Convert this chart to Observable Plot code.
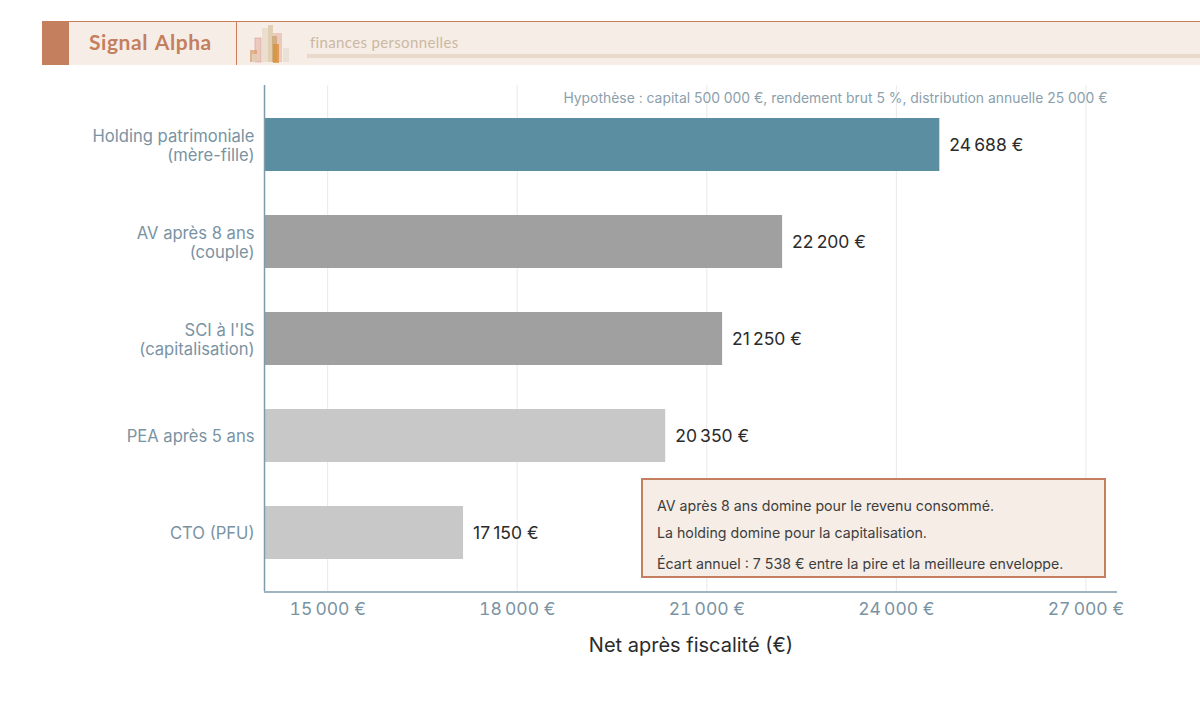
<!DOCTYPE html>
<html lang="fr"><head><meta charset="utf-8">
<script src="https://cdn.jsdelivr.net/npm/d3@7"></script>
<script src="https://cdn.jsdelivr.net/npm/@observablehq/plot@0.6"></script>
<style>
html,body{margin:0;padding:0;background:#fff;overflow:hidden}
#wrap{position:relative;width:1200px;height:721px;font-family:Inter,sans-serif}
#wrap>svg.chart,#chart svg{position:absolute;left:0;top:0}
#hdr{position:absolute;left:42px;top:21px;width:1158px;height:44px;background:#f6ede7;border-top:1px solid #c97e5e;box-sizing:border-box}
#sq{position:absolute;left:0;top:0;width:27px;height:43px;background:#c47f5f}
#sep{position:absolute;left:194px;top:0;width:1px;height:43px;background:#c97e5e}
#brand{position:absolute;left:47px;top:7px;font:700 21px Lato,sans-serif;color:#c47f5f;word-spacing:2px;letter-spacing:.55px}
#sub{position:absolute;left:268px;top:11px;font:400 15px Lato,sans-serif;color:#cbb8a2;letter-spacing:.35px}
#rule{position:absolute;left:265px;top:32px;right:0;height:4px;background:#e8d9ca}
#logo{position:absolute;left:207px;top:0}
#box{position:absolute;left:641px;top:478px;width:465px;height:100px;box-sizing:border-box;background:#f6ede7;border:2px solid #c47f5f;color:#3d3d3d;font-size:14.2px}
#box div{position:absolute;left:14px;white-space:nowrap}
</style></head><body>
<div id="wrap">
<div id="chart"></div>
<div id="hdr"><div id="sq"></div><div id="sep"></div><div id="brand">Signal Alpha</div>
<svg id="logo" width="44" height="42" viewBox="0 0 44 42">
<g fill-opacity=".7">
<rect x="6" y="16" width="6" height="24" fill="#e6b9ae" stroke="#d9908a" stroke-width=".5"/><rect x="1" y="28" width="7" height="12" fill="#dc9a6a"/><rect x="3" y="32" width="5" height="8" fill="#e4dacb"/>
<rect x="13" y="6" width="6" height="34" fill="#e6d8c4"/><rect x="19" y="3" width="5" height="37" fill="#d9c19c"/><rect x="24" y="11" width="9" height="29" fill="#e7b9ae"/>
<rect x="23" y="14" width="5" height="26" fill="#c9a36b"/><rect x="24" y="22" width="6" height="19" fill="#d98b2f"/><rect x="34" y="26" width="6" height="14" fill="#e4dccb"/>
</g></svg>
<div id="sub">finances personnelles</div><div id="rule"></div></div>
<div id="box"><div style="top:17px">AV après 8 ans domine pour le revenu consommé.</div><div style="top:44px">La holding domine pour la capitalisation.</div><div style="top:75px">Écart annuel : 7 538 € entre la pire et la meilleure enveloppe.</div></div>
</div>
<script>
const categories = ["Holding patrimoniale\n(mère-fille)","AV après 8 ans\n(couple)","SCI à l'IS\n(capitalisation)","PEA après 5 ans","CTO (PFU)"];
const values = [24688,22200,21250,20350,17150];
const barColors = ["#5b8ea0","#a0a0a0","#a0a0a0","#c8c8c8","#c8c8c8"];
const xTicks = [15000,18000,21000,24000,27000];
const hypothesis = "Hypothèse : capital 500 000 €, rendement brut 5 %, distribution annuelle 25 000 €";
const xLabel = "Net après fiscalité (€)";
const axisColor = "#7f9bab";
const tickColor = "#7a93a3";
const fr = v => String(v).replace(/\B(?=(\d{3})+$)/g,"\u202f") + " €";
const data = categories.map((c,i)=>({c,v:values[i],col:barColors[i]}));

const plot = Plot.plot({
  width:1200,height:721,
  marginLeft:264,marginRight:83,marginTop:85,marginBottom:130,
  style:{fontFamily:"Inter,sans-serif",background:"transparent"},
  x:{domain:[14000,27500],range:[264,1117]},
  y:{domain:categories,paddingInner:0.454,paddingOuter:0.33},
  marks:[
    Plot.gridX(xTicks,{stroke:"#e9e9e9",strokeOpacity:1,strokeWidth:1}),
    Plot.barX(data,{x1:()=>14000,x2:"v",y:"c",fill:"col"}),
    Plot.text(data,{x:"v",y:"c",text:d=>fr(d.v),textAnchor:"start",dx:9.5,fontSize:17.5,fill:"#2b2b2b"}),
    Plot.ruleX([14000],{stroke:axisColor,strokeWidth:1.5}),
    Plot.axisY({tickSize:0,tickPadding:10,label:null,fontSize:16.6,fill:tickColor,lineHeight:1.15,tickFormat:d=>d}),
    Plot.axisX({ticks:xTicks,tickSize:0,tickPadding:11,label:null,fontSize:17.5,fill:tickColor,tickFormat:fr}),
    Plot.text([hypothesis],{frameAnchor:"top-right",dx:-10,dy:8,fontSize:13.9,fill:"#8ba0ac"}),
    Plot.text([xLabel],{frameAnchor:"bottom",dy:60,dx:0,fontSize:20,fill:"#2b2b2b"})
  ]
});
document.getElementById("chart").appendChild(plot);
// x axis baseline, in the frame's coordinates
const xs = plot.scale("x");
d3.select(plot).append("line").attr("x1",xs.apply(14000)).attr("x2",xs.apply(27500)).attr("y1",592).attr("y2",592).attr("stroke",axisColor).attr("stroke-width",1.5);
</script>
</body></html>
